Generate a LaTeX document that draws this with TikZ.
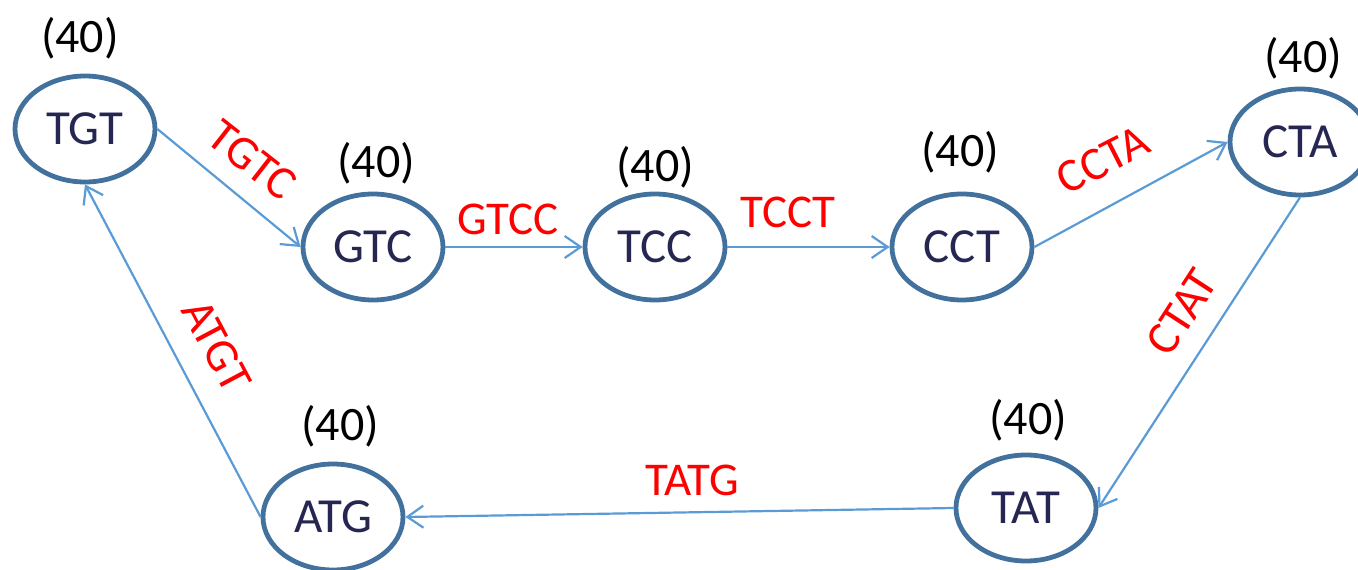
\documentclass[tikz,border=0pt]{standalone}
\usepackage{fontspec}
\setmainfont{Carlito}
\usetikzlibrary{arrows.meta,shapes.geometric}
\definecolor{ringblue}{HTML}{41719C}
\definecolor{edgeblue}{HTML}{5B9BD5}
\definecolor{kmerink}{HTML}{262652}
\definecolor{labelred}{HTML}{FF0000}
\begin{document}
\begin{tikzpicture}[x=1pt,y=-1pt,
  kmer/.style={ellipse,draw=ringblue,line width=4.8pt,minimum width=140pt,minimum height=106pt,
    inner sep=0pt,text=kmerink,font=\fontsize{49}{58}\selectfont},
  count/.style={inner sep=0pt,font=\fontsize{48}{58}\selectfont},
  edgelabel/.style={inner sep=0pt,text=labelred,font=\fontsize{47}{56}\selectfont},
  link/.style={draw=edgeblue,line width=2.2pt,-{Straight Barb[length=16pt,width=22pt,line width=2.2pt]}}]
\useasboundingbox (0,0) rectangle (1358,570);
\clip (0,0) rectangle (1358,570);

% k-mer nodes
\node[kmer] (tgt) at (85,129) {TGT};
\node[kmer] (gtc) at (373,247) {GTC};
\node[kmer] (tcc) at (655,247) {TCC};
\node[kmer] (cct) at (962,247) {CCT};
\node[kmer] (cta) at (1300,142) {CTA};
\node[kmer] (tat) at (1026,508) {TAT};
\node[kmer] (atg) at (333,517) {ATG};

% multiplicities
\node[count] (ctgt) at (80,38) {(40)};
\node[count] (cgtc) at (376,163) {(40)};
\node[count] (ctcc) at (655,167) {(40)};
\node[count] (ccct) at (960,152) {(40)};
\node[count] (ccta) at (1303,58) {(40)};
\node[count] (ctat) at (1028,420) {(40)};
\node[count] (catg) at (340,426) {(40)};

% edges of the de Bruijn cycle
\draw[link] (tgt.east) -- (gtc.west);
\draw[link] (gtc.east) -- (tcc.west);
\draw[link] (tcc.east) -- (cct.west);
\draw[link] (cct.east) -- (cta.west);
\draw[link] (cta.south) -- (tat.east);
\draw[link] (tat.west) -- (atg.east);
\draw[link] (atg.west) -- (tgt.south);

% edge labels
\node[edgelabel,rotate=-38] (ltgtc) at (252,160) {TGTC};
\node[edgelabel] (lgtcc) at (508,219) {GTCC};
\node[edgelabel] (ltcct) at (788,212) {TCCT};
\node[edgelabel,rotate=27] (lccta) at (1103,160) {CCTA};
\node[edgelabel,rotate=57] (lctat) at (1182,312) {CTAT};
\node[edgelabel] (ltatg) at (692,480) {TATG};
\node[edgelabel,rotate=-62] (latgt) at (217,346) {ATGT};
\end{tikzpicture}
\end{document}
